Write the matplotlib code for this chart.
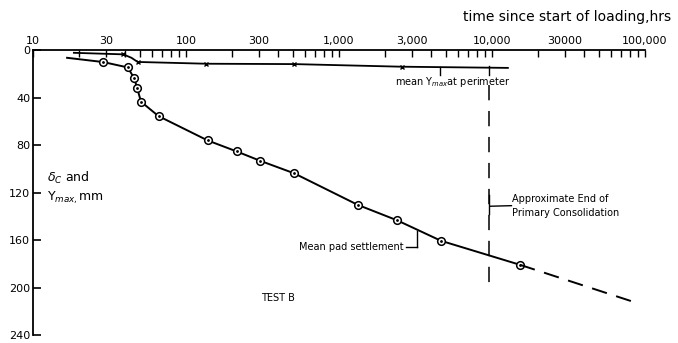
import matplotlib
matplotlib.use("Agg")
import matplotlib.pyplot as plt
from matplotlib.ticker import FixedLocator, FixedFormatter, NullFormatter

# Settlement (delta_C) curve - circles
settle_t = [16.7, 28.8, 41.6, 45.9, 48.0, 50.8, 66.1, 138.6, 214, 305, 510, 1325, 2403, 4645, 15240]
settle_v = [6.5, 10.1, 14.6, 23.8, 32.3, 43.5, 55.6, 76.1, 85.3, 93.2, 103.8, 130.3, 143.4, 160.6, 180.8]
marker_idx = list(range(1, 15))
# extrapolated (dashed) part
extrap_t = [15240, 90300]
extrap_v = [180.8, 213.3]

# Y_max at perimeter curve
ymax_t = [18.5, 38.9, 44.0, 48.3, 136, 508, 2570, 12700]
ymax_v = [2.3, 3.6, 6.5, 10.0, 11.5, 11.8, 14.0, 15.0]
ymax_marks = [1, 3, 4, 5, 6]

xticks = [10, 30, 100, 300, 1000, 3000, 10000, 30000, 100000]
xticklabels = ["10", "30", "100", "300", "1,000", "3,000", "10,000", "30000", "100,000"]
yticks = [0, 40, 80, 120, 160, 200, 240]

end_primary_t = 9500

fig = plt.figure(figsize=(6.78, 3.43), dpi=100)
ax = fig.add_axes([0.0487, 0.023, 0.9026, 0.831])
ax.set_xscale("log")
ax.set_xlim(10, 100000)
ax.set_ylim(240, 0)

for s in ["right", "bottom"]:
    ax.spines[s].set_visible(False)
for s in ["left", "top"]:
    ax.spines[s].set_linewidth(1.3)

ax.xaxis.set_ticks_position("top")
ax.xaxis.set_major_locator(FixedLocator(xticks))
ax.xaxis.set_major_formatter(FixedFormatter(xticklabels))
minor = [m * 10 ** d for d in range(1, 5) for m in range(2, 10) if m * 10 ** d not in xticks]
ax.xaxis.set_minor_locator(FixedLocator(minor))
ax.xaxis.set_minor_formatter(NullFormatter())
ax.tick_params(axis="x", which="both", direction="in", length=5, width=1, pad=3, labelsize=8)
ax.set_yticks(yticks)
ax.tick_params(axis="y", direction="in", length=6, width=1.2, pad=2, labelsize=8)

# settlement curve
ax.plot(settle_t, settle_v, color="black", lw=1.4)
ax.plot([settle_t[i] for i in marker_idx], [settle_v[i] for i in marker_idx], "o",
        ms=5.5, mfc="white", mec="black", mew=1.1)
ax.plot([settle_t[i] for i in marker_idx], [settle_v[i] for i in marker_idx], ".",
        ms=2, color="black")
ax.plot(extrap_t, extrap_v, color="black", lw=1.4, dashes=(8, 5))

# Y_max curve
ax.plot(ymax_t, ymax_v, color="black", lw=1.3)
ax.plot([ymax_t[i] for i in ymax_marks], [ymax_v[i] for i in ymax_marks], "x",
        ms=3, color="black", mew=1)

# end of primary consolidation
ax.plot([end_primary_t, end_primary_t], [29, 200], color="black", lw=1.1, dashes=(10, 7))
ax.plot([end_primary_t, end_primary_t], [13, 21], color="black", lw=1)
ax.plot([4600, 4600], [14, 21], color="black", lw=1)
ax.plot([end_primary_t * 1.02, 13400], [131.5, 131], color="black", lw=1)
ax.plot([end_primary_t, end_primary_t], [122, 138], color="black", lw=1)

ax.text(5560, 27, "mean Y$_{max}$at perimeter", fontsize=7, ha="center", va="center")
ax.text(13500, 125, "Approximate End of", fontsize=7, ha="left", va="center")
ax.text(13500, 137, "Primary Consolidation", fontsize=7, ha="left", va="center")

# mean pad settlement leader
ax.plot([3236, 3236], [152, 166], color="black", lw=1)
ax.plot([2750, 3236], [166, 166], color="black", lw=1)
ax.text(2650, 166, "Mean pad settlement", fontsize=7, ha="right", va="center")

ax.text(399, 209, "TEST B", fontsize=7, ha="center", va="center")

ax.text(12.3, 116, "$\\delta_C$ and\nY$_{max,}$mm", fontsize=9, ha="left", va="center",
        linespacing=1.3)

fig.text(0.99, 0.95, "time since start of loading,hrs", fontsize=10, ha="right", va="center")

fig.savefig("out.png", dpi=100)
